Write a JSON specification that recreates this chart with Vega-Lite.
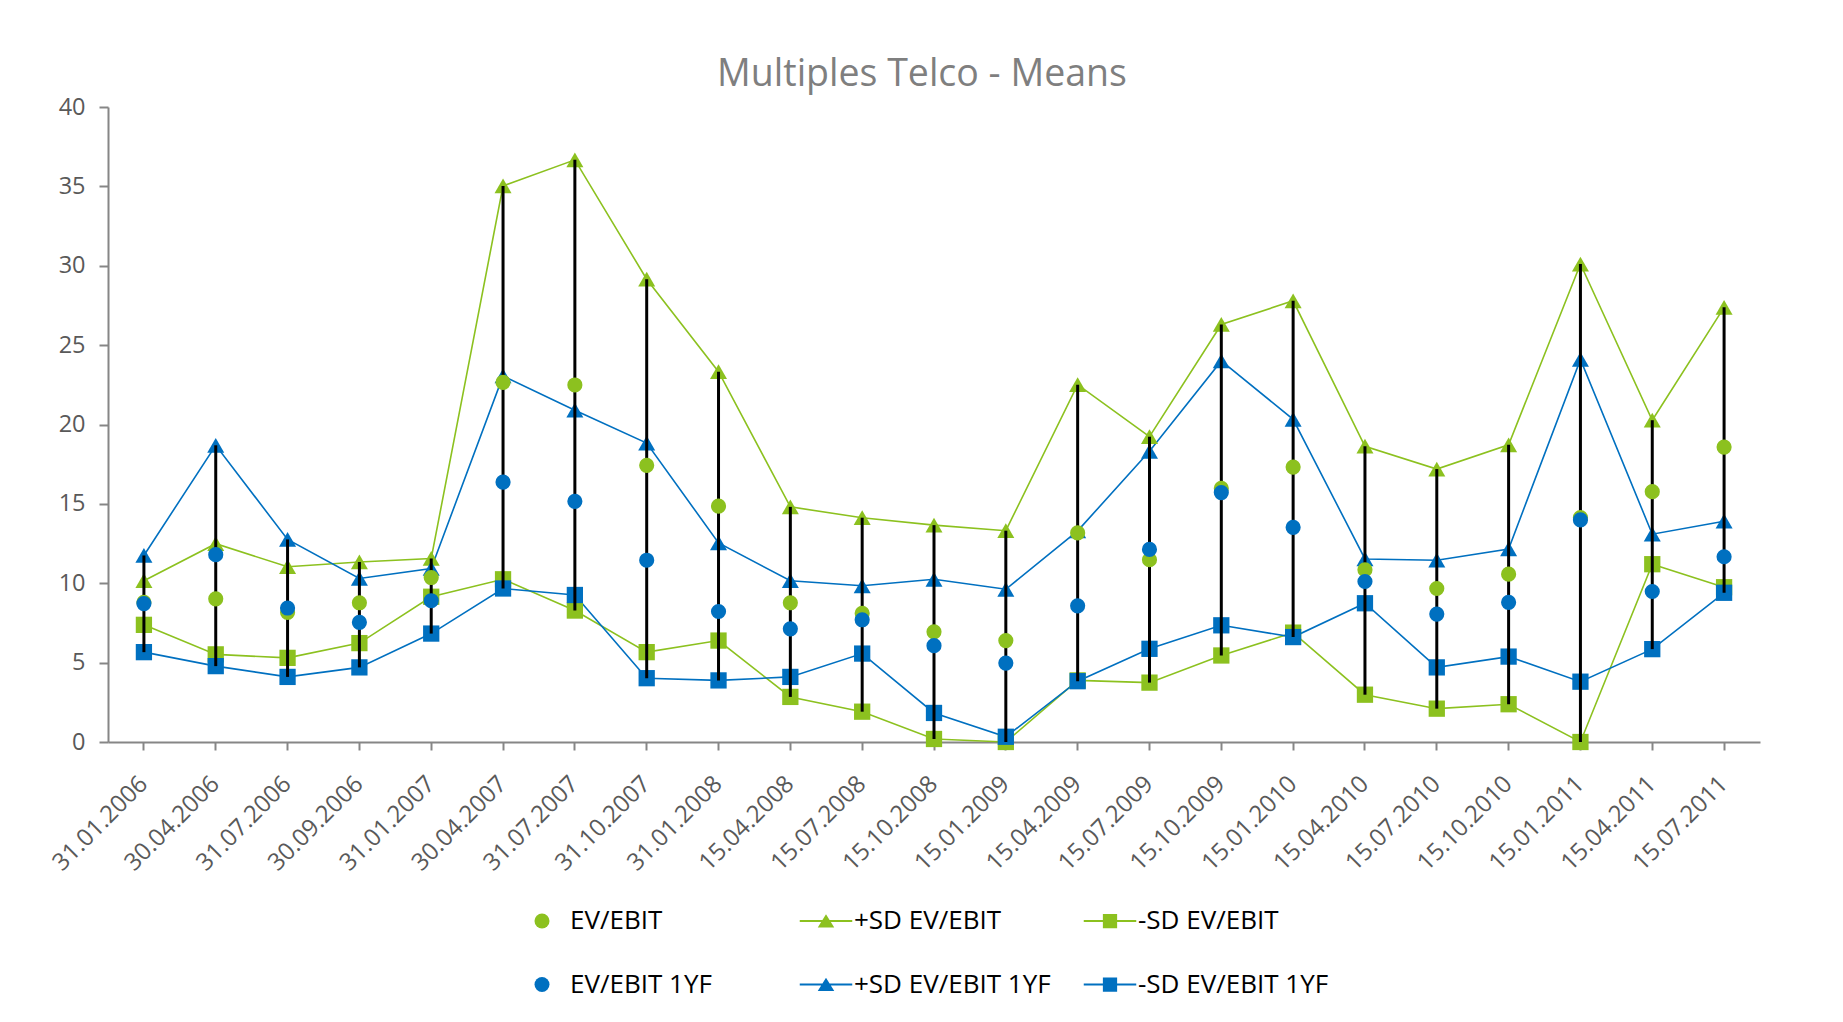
{
  "$schema": "https://vega.github.io/schema/vega-lite/v6.json",
  "autosize": "none",
  "width": 1652,
  "height": 635,
  "padding": {"left": 108, "top": 107, "right": 83, "bottom": 280},
  "background": "white",
  "title": {
    "text": "Multiples Telco - Means",
    "anchor": "middle",
    "frame": "group",
    "dx": -12,
    "offset": 2,
    "fontSize": 37.5,
    "font": "Open Sans",
    "fontWeight": "normal",
    "color": "#7f7f7f"
  },
  "config": {
    "font": "Open Sans",
    "view": {"stroke": null}
  },
  "data": {
    "values": [
      {"date": "31.01.2006", "EV/EBIT": 8.8, "+SD EV/EBIT": 10.16, "-SD EV/EBIT": 7.38, "EV/EBIT 1YF": 8.72, "+SD EV/EBIT 1YF": 11.75, "-SD EV/EBIT 1YF": 5.66},
      {"date": "30.04.2006", "EV/EBIT": 9.02, "+SD EV/EBIT": 12.49, "-SD EV/EBIT": 5.52, "EV/EBIT 1YF": 11.8, "+SD EV/EBIT 1YF": 18.69, "-SD EV/EBIT 1YF": 4.78},
      {"date": "31.07.2006", "EV/EBIT": 8.17, "+SD EV/EBIT": 11.04, "-SD EV/EBIT": 5.3, "EV/EBIT 1YF": 8.44, "+SD EV/EBIT 1YF": 12.76, "-SD EV/EBIT 1YF": 4.1},
      {"date": "30.09.2006", "EV/EBIT": 8.77, "+SD EV/EBIT": 11.34, "-SD EV/EBIT": 6.23, "EV/EBIT 1YF": 7.54, "+SD EV/EBIT 1YF": 10.3, "-SD EV/EBIT 1YF": 4.7},
      {"date": "31.01.2007", "EV/EBIT": 10.36, "+SD EV/EBIT": 11.56, "-SD EV/EBIT": 9.15, "EV/EBIT 1YF": 8.9, "+SD EV/EBIT 1YF": 10.93, "-SD EV/EBIT 1YF": 6.83},
      {"date": "30.04.2007", "EV/EBIT": 22.65, "+SD EV/EBIT": 35.03, "-SD EV/EBIT": 10.25, "EV/EBIT 1YF": 16.37, "+SD EV/EBIT 1YF": 23.06, "-SD EV/EBIT 1YF": 9.67},
      {"date": "31.07.2007", "EV/EBIT": 22.49, "+SD EV/EBIT": 36.67, "-SD EV/EBIT": 8.28, "EV/EBIT 1YF": 15.16, "+SD EV/EBIT 1YF": 20.9, "-SD EV/EBIT 1YF": 9.26},
      {"date": "31.10.2007", "EV/EBIT": 17.43, "+SD EV/EBIT": 29.15, "-SD EV/EBIT": 5.66, "EV/EBIT 1YF": 11.45, "+SD EV/EBIT 1YF": 18.83, "-SD EV/EBIT 1YF": 4.02},
      {"date": "31.01.2008", "EV/EBIT": 14.86, "+SD EV/EBIT": 23.33, "-SD EV/EBIT": 6.39, "EV/EBIT 1YF": 8.22, "+SD EV/EBIT 1YF": 12.54, "-SD EV/EBIT 1YF": 3.88},
      {"date": "15.04.2008", "EV/EBIT": 8.77, "+SD EV/EBIT": 14.81, "-SD EV/EBIT": 2.84, "EV/EBIT 1YF": 7.13, "+SD EV/EBIT 1YF": 10.16, "-SD EV/EBIT 1YF": 4.1},
      {"date": "15.07.2008", "EV/EBIT": 8.11, "+SD EV/EBIT": 14.13, "-SD EV/EBIT": 1.91, "EV/EBIT 1YF": 7.7, "+SD EV/EBIT 1YF": 9.84, "-SD EV/EBIT 1YF": 5.57},
      {"date": "15.10.2008", "EV/EBIT": 6.94, "+SD EV/EBIT": 13.66, "-SD EV/EBIT": 0.19, "EV/EBIT 1YF": 6.07, "+SD EV/EBIT 1YF": 10.25, "-SD EV/EBIT 1YF": 1.83},
      {"date": "15.01.2009", "EV/EBIT": 6.39, "+SD EV/EBIT": 13.31, "-SD EV/EBIT": 0.0, "EV/EBIT 1YF": 4.97, "+SD EV/EBIT 1YF": 9.62, "-SD EV/EBIT 1YF": 0.33},
      {"date": "15.04.2009", "EV/EBIT": 13.17, "+SD EV/EBIT": 22.51, "-SD EV/EBIT": 3.88, "EV/EBIT 1YF": 8.58, "+SD EV/EBIT 1YF": 13.3, "-SD EV/EBIT 1YF": 3.83},
      {"date": "15.07.2009", "EV/EBIT": 11.48, "+SD EV/EBIT": 19.23, "-SD EV/EBIT": 3.74, "EV/EBIT 1YF": 12.13, "+SD EV/EBIT 1YF": 18.31, "-SD EV/EBIT 1YF": 5.87},
      {"date": "15.10.2009", "EV/EBIT": 15.98, "+SD EV/EBIT": 26.3, "-SD EV/EBIT": 5.45, "EV/EBIT 1YF": 15.71, "+SD EV/EBIT 1YF": 24.0, "-SD EV/EBIT 1YF": 7.35},
      {"date": "15.01.2010", "EV/EBIT": 17.32, "+SD EV/EBIT": 27.79, "-SD EV/EBIT": 6.89, "EV/EBIT 1YF": 13.52, "+SD EV/EBIT 1YF": 20.33, "-SD EV/EBIT 1YF": 6.61},
      {"date": "15.04.2010", "EV/EBIT": 10.85, "+SD EV/EBIT": 18.63, "-SD EV/EBIT": 2.98, "EV/EBIT 1YF": 10.11, "+SD EV/EBIT 1YF": 11.53, "-SD EV/EBIT 1YF": 8.74},
      {"date": "15.07.2010", "EV/EBIT": 9.67, "+SD EV/EBIT": 17.19, "-SD EV/EBIT": 2.1, "EV/EBIT 1YF": 8.06, "+SD EV/EBIT 1YF": 11.45, "-SD EV/EBIT 1YF": 4.7},
      {"date": "15.10.2010", "EV/EBIT": 10.57, "+SD EV/EBIT": 18.72, "-SD EV/EBIT": 2.38, "EV/EBIT 1YF": 8.8, "+SD EV/EBIT 1YF": 12.16, "-SD EV/EBIT 1YF": 5.38},
      {"date": "15.01.2011", "EV/EBIT": 14.13, "+SD EV/EBIT": 30.11, "-SD EV/EBIT": 0.0, "EV/EBIT 1YF": 13.99, "+SD EV/EBIT 1YF": 24.1, "-SD EV/EBIT 1YF": 3.8},
      {"date": "15.04.2011", "EV/EBIT": 15.77, "+SD EV/EBIT": 20.27, "-SD EV/EBIT": 11.2, "EV/EBIT 1YF": 9.48, "+SD EV/EBIT 1YF": 13.09, "-SD EV/EBIT 1YF": 5.85},
      {"date": "15.07.2011", "EV/EBIT": 18.58, "+SD EV/EBIT": 27.38, "-SD EV/EBIT": 9.75, "EV/EBIT 1YF": 11.67, "+SD EV/EBIT 1YF": 13.91, "-SD EV/EBIT 1YF": 9.4}
    ]
  },
  "transform": [
    {"fold": ["EV/EBIT", "+SD EV/EBIT", "-SD EV/EBIT", "EV/EBIT 1YF", "+SD EV/EBIT 1YF", "-SD EV/EBIT 1YF"], "as": ["series", "value"]}
  ],
  "encoding": {
    "x": {
      "field": "date",
      "type": "nominal",
      "sort": null,
      "scale": {"paddingInner": 0, "paddingOuter": 0},
      "axis": {
        "title": null,
        "labelAngle": -45,
        "labelBaseline": "middle",
        "labelFontSize": 24,
        "labelColor": "#595959",
        "labelPadding": 30,
        "domainColor": "#868686",
        "domainWidth": 2,
        "tickColor": "#868686",
        "tickWidth": 2,
        "tickSize": 8
      }
    },
    "y": {
      "field": "value",
      "type": "quantitative",
      "scale": {"domain": [0, 40], "nice": false},
      "axis": {
        "title": null,
        "values": [0, 5, 10, 15, 20, 25, 30, 35, 40],
        "grid": false,
        "labelFontSize": 23.5,
        "labelColor": "#595959",
        "labelPadding": 14,
        "domainColor": "#868686",
        "domainWidth": 2,
        "tickColor": "#868686",
        "tickWidth": 2,
        "tickSize": 9
      }
    },
    "color": {
      "field": "series",
      "type": "nominal",
      "scale": {
        "domain": ["EV/EBIT", "+SD EV/EBIT", "-SD EV/EBIT", "EV/EBIT 1YF", "+SD EV/EBIT 1YF", "-SD EV/EBIT 1YF"],
        "range": ["#8CC11F", "#8CC11F", "#8CC11F", "#0070C0", "#0070C0", "#0070C0"]
      },
      "legend": {
        "title": null,
        "orient": "none",
        "legendX": 421,
        "legendY": 801,
        "columns": 3,
        "direction": "horizontal",
        "gridAlign": "all",
        "columnPadding": 32,
        "rowPadding": 37.5,
        "padding": 0,
        "symbolSize": 225,
        "labelOffset": 15,
        "labelFontSize": 26,
        "labelColor": "#000000",
        "labelFont": "Open Sans",
        "labelLimit": 400,
        "encode": {
          "symbols": {
            "update": {
              "shape": {"signal": "indexof(datum.value, '+SD') === 0 ? 'M-3.5,-0.12H3.5V0.12H-3.5Z M0,-0.9L1.1,0.85L-1.1,0.85Z' : (indexof(datum.value, '-SD') === 0 ? 'M-3.5,-0.12H3.5V0.12H-3.5Z M-0.95,-0.95H0.95V0.95H-0.95Z' : 'circle')"},
              "fill": {"signal": "indexof(datum.value, '1YF') >= 0 ? '#0070C0' : '#8CC11F'"},
              "fillOpacity": {"value": 1},
              "stroke": {"value": "transparent"},
              "strokeWidth": {"value": 0},
              "opacity": {"value": 1}
            }
          }
        }
      }
    }
  },
  "layer": [
    {
      "transform": [{"filter": "indexof(datum.series, 'SD') >= 0"}],
      "mark": {"type": "line", "strokeWidth": 1.6},
      "encoding": {"detail": {"field": "series"}}
    },
    {
      "transform": [{"filter": "indexof(datum.series, '+SD') === 0"}],
      "mark": {"type": "point", "shape": "triangle-up", "filled": true, "opacity": 1, "size": 290}
    },
    {
      "transform": [{"filter": "indexof(datum.series, '-SD') === 0"}],
      "mark": {"type": "point", "shape": "square", "filled": true, "opacity": 1, "size": 265}
    },
    {
      "mark": {"type": "rule", "color": "#000000", "strokeWidth": 3},
      "encoding": {
        "color": {"value": "#000000"},
        "y": {"aggregate": "min", "field": "value", "type": "quantitative"},
        "y2": {"aggregate": "max", "field": "value"}
      }
    },
    {
      "transform": [{"filter": "indexof(datum.series, 'SD') < 0"}],
      "mark": {"type": "point", "shape": "circle", "filled": true, "opacity": 1, "size": 230}
    }
  ]
}
